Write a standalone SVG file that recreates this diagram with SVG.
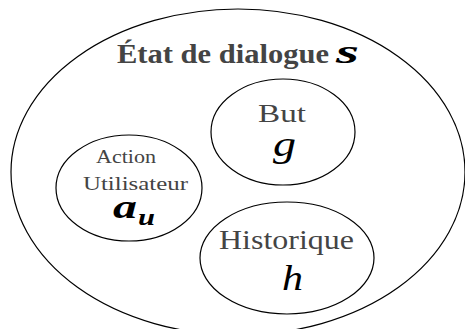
<svg xmlns="http://www.w3.org/2000/svg" width="465" height="329" viewBox="0 0 465 329">
<style>
.sh{fill:none;stroke:#000;stroke-width:1.2}
.lb{font-family:"Liberation Serif","DejaVu Serif",serif;fill:#444}
.m{font-family:"Liberation Serif","DejaVu Serif",serif;font-style:italic;fill:#000}
</style>
<rect width="465" height="329" fill="#fff"/>
<g id="etat">
<ellipse class="sh" cx="238" cy="172" rx="227" ry="163"/>
<text class="lb" x="117" y="63" font-size="27" font-weight="bold" fill="#333" textLength="212" lengthAdjust="spacingAndGlyphs">État de dialogue</text>
<text class="m" x="336" y="63" font-size="34" font-weight="bold" textLength="23" lengthAdjust="spacingAndGlyphs">s</text>
</g>
<g id="but">
<ellipse class="sh" cx="283" cy="132" rx="72" ry="53"/>
<text class="lb" x="258" y="122" font-size="26" textLength="48" lengthAdjust="spacingAndGlyphs">But</text>
<text class="m" x="273" y="156" font-size="36" textLength="23" lengthAdjust="spacingAndGlyphs">g</text>
</g>
<g id="action">
<ellipse class="sh" cx="129" cy="188" rx="73" ry="53"/>
<text class="lb" x="96" y="163" font-size="19" textLength="60" lengthAdjust="spacingAndGlyphs">Action</text>
<text class="lb" x="83" y="190" font-size="18" textLength="105" lengthAdjust="spacingAndGlyphs">Utilisateur</text>
<text class="m" x="113" y="218" font-size="34" font-weight="bold" textLength="24" lengthAdjust="spacingAndGlyphs">a</text>
<text class="m" x="138" y="225" font-size="24" font-weight="bold" textLength="17" lengthAdjust="spacingAndGlyphs">u</text>
</g>
<g id="historique">
<ellipse class="sh" cx="287" cy="258" rx="87" ry="56"/>
<text class="lb" x="219" y="249" font-size="27" textLength="135" lengthAdjust="spacingAndGlyphs">Historique</text>
<text class="m" x="282" y="290" font-size="36" textLength="21" lengthAdjust="spacingAndGlyphs">h</text>
</g>
<g id="connectors"/>
</svg>
